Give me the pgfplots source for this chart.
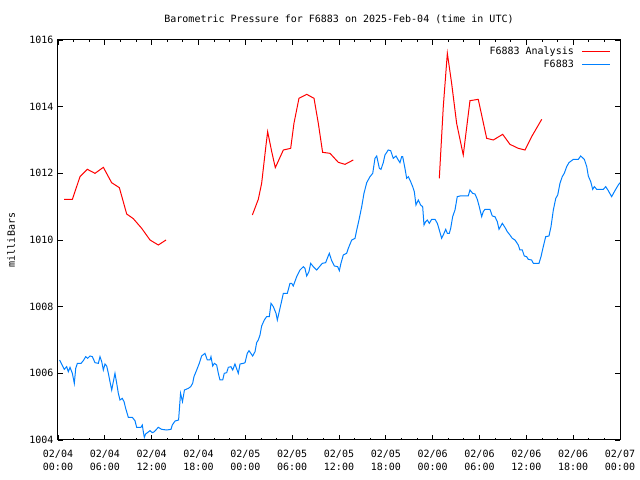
\documentclass[border=0pt]{standalone}
\usepackage{fontspec}
\setmainfont{DejaVu Sans Mono}
\usepackage{pgfplots}
\pgfplotsset{compat=1.18}
\definecolor{redline}{RGB}{255,0,0}
\definecolor{blueline}{RGB}{0,128,255}
\begin{document}
\begin{tikzpicture}
\fill[white] (-58bp,-40bp) rectangle (582bp,440bp);
\path[use as bounding box] (-58bp,-40bp) rectangle (582bp,440bp);
\begin{axis}[
  at={(0,0)}, anchor=south west,
  scale only axis, width=562bp, height=400bp,
  xmin=0, xmax=72, ymin=1004, ymax=1016,
  xtick={0,6,...,72},
  xticklabels={{02/04\\00:00},{02/04\\06:00},{02/04\\12:00},{02/04\\18:00},{02/05\\00:00},{02/05\\06:00},{02/05\\12:00},{02/05\\18:00},{02/06\\00:00},{02/06\\06:00},{02/06\\12:00},{02/06\\18:00},{02/07\\00:00}},
  minor x tick num=2,
  ytick={1004,1006,...,1016},
  yticklabel style={/pgf/number format/1000 sep={}, /pgf/number format/assume math mode=true, font=\fontsize{10bp}{12bp}\selectfont, xshift=-1bp},
  xticklabel style={align=center, font=\fontsize{10bp}{13bp}\selectfont, yshift=-7bp},
  tick align=inside,
  major tick length=5bp, minor tick length=2.5bp,
  every tick/.style={black, line width=0.8bp},
  axis line style={black, line width=1bp},
  unbounded coords=jump,
  legend plot pos=right,
  legend cell align=right,
  legend style={draw=none, fill=none, at={(1,1)}, anchor=north east, xshift=-6bp, yshift=-3bp, font=\fontsize{10bp}{12bp}\selectfont, row sep=0bp},
  legend image code/.code={\path (0bp,0bp); \draw[#1] (6bp,0bp) -- (34bp,0bp);},
]
\addplot[redline, line width=1bp] coordinates {
(0.77,1011.22)(1.84,1011.22)(2.82,1011.9)(3.76,1012.12)(4.74,1012.0)(5.81,1012.18)(6.87,1011.72)(7.86,1011.57)(8.8,1010.78)(9.65,1010.64)(10.72,1010.35)(11.79,1010.0)(12.85,1009.85)(13.84,1010.0)
(18,nan)
(24.9,1010.75)(25.66,1011.22)(26.09,1011.7)(26.65,1012.85)(26.86,1013.25)(27.38,1012.65)(27.84,1012.17)(28.87,1012.7)(29.81,1012.75)(30.23,1013.5)(30.87,1014.25)(31.86,1014.37)(32.8,1014.25)(33.35,1013.5)(33.9,1012.63)(34.85,1012.6)(35.91,1012.33)(36.77,1012.27)(37.83,1012.4)
(42,nan)
(48.85,1011.85)(49.36,1014.0)(49.88,1015.6)(50.43,1014.7)(51.07,1013.5)(51.92,1012.55)(52.78,1014.18)(53.84,1014.22)(54.92,1013.05)(55.77,1013.0)(56.97,1013.17)(57.9,1012.87)(58.97,1012.75)(59.83,1012.7)(60.68,1013.1)(61.97,1013.62)
};
\addlegendentry{F6883 Analysis}
\addplot[blueline, line width=1bp] coordinates {
(0.2,1006.4)(0.47,1006.28)(0.81,1006.12)(1.11,1006.2)(1.32,1006.05)(1.54,1006.18)(1.84,1006.0)(2.09,1005.7)(2.27,1006.15)(2.48,1006.3)(2.95,1006.3)(3.24,1006.38)(3.55,1006.5)(3.8,1006.45)(4.1,1006.52)(4.4,1006.5)(4.74,1006.32)(5.17,1006.3)(5.38,1006.5)(5.6,1006.35)(5.81,1006.1)(6.02,1006.28)(6.24,1006.22)(6.45,1006.0)(6.66,1005.75)(6.88,1005.5)(7.09,1005.75)(7.3,1006.0)(7.52,1005.7)(7.73,1005.4)(7.94,1005.2)(8.24,1005.25)(8.46,1005.15)(8.67,1004.95)(9.01,1004.68)(9.52,1004.68)(9.86,1004.58)(10.08,1004.38)(10.63,1004.38)(10.8,1004.45)(10.93,1004.25)(11.06,1004.08)(11.23,1004.18)(11.79,1004.28)(12.08,1004.22)(12.34,1004.25)(12.85,1004.38)(13.28,1004.32)(13.92,1004.3)(14.48,1004.32)(14.64,1004.45)(15.0,1004.57)(15.45,1004.6)(15.7,1005.4)(15.95,1005.15)(16.2,1005.5)(16.7,1005.55)(17.0,1005.6)(17.25,1005.7)(17.42,1005.9)(17.77,1006.1)(18.1,1006.3)(18.4,1006.52)(18.83,1006.6)(19.13,1006.4)(19.47,1006.4)(19.6,1006.5)(19.82,1006.22)(20.03,1006.3)(20.33,1006.25)(20.54,1006.0)(20.75,1005.8)(21.1,1005.8)(21.3,1006.0)(21.61,1006.02)(21.82,1006.18)(22.16,1006.2)(22.38,1006.1)(22.67,1006.28)(23.1,1006.0)(23.32,1006.28)(23.74,1006.3)(23.96,1006.32)(24.25,1006.6)(24.47,1006.68)(24.94,1006.52)(25.24,1006.65)(25.45,1006.92)(25.66,1007.0)(25.88,1007.15)(26.09,1007.42)(26.43,1007.6)(26.73,1007.7)(27.07,1007.7)(27.29,1008.1)(27.59,1008.0)(27.93,1007.8)(28.1,1007.6)(28.44,1007.95)(28.87,1008.4)(29.38,1008.4)(29.72,1008.7)(29.94,1008.7)(30.14,1008.62)(30.58,1008.9)(31.0,1009.1)(31.43,1009.2)(31.64,1009.15)(31.86,1008.92)(32.15,1009.05)(32.37,1009.3)(32.71,1009.2)(33.14,1009.1)(33.86,1009.3)(34.29,1009.32)(34.55,1009.48)(34.76,1009.6)(35.06,1009.38)(35.4,1009.22)(35.83,1009.2)(36.04,1009.08)(36.25,1009.3)(36.55,1009.55)(36.98,1009.6)(37.19,1009.75)(37.63,1010.0)(38.05,1010.05)(38.27,1010.3)(38.56,1010.6)(38.91,1011.0)(39.2,1011.4)(39.55,1011.72)(39.97,1011.9)(40.32,1012.0)(40.61,1012.45)(40.83,1012.52)(41.17,1012.15)(41.38,1012.12)(41.67,1012.32)(41.89,1012.55)(42.31,1012.7)(42.62,1012.68)(42.95,1012.45)(43.3,1012.52)(43.59,1012.4)(43.81,1012.32)(44.03,1012.5)(44.16,1012.5)(44.45,1012.15)(44.67,1011.85)(44.88,1011.9)(45.18,1011.75)(45.44,1011.6)(45.65,1011.45)(45.86,1011.05)(46.16,1011.2)(46.46,1011.05)(46.72,1011.0)(46.89,1010.45)(47.1,1010.55)(47.31,1010.6)(47.57,1010.5)(47.87,1010.62)(48.3,1010.62)(48.6,1010.5)(48.85,1010.3)(49.15,1010.05)(49.36,1010.15)(49.67,1010.32)(49.88,1010.2)(50.13,1010.2)(50.31,1010.35)(50.56,1010.7)(50.86,1010.9)(51.15,1011.3)(51.5,1011.32)(52.14,1011.32)(52.56,1011.32)(52.78,1011.5)(53.12,1011.4)(53.42,1011.38)(53.72,1011.22)(53.97,1011.0)(54.28,1010.7)(54.48,1010.85)(54.7,1010.92)(55.34,1010.92)(55.64,1010.72)(55.98,1010.7)(56.28,1010.55)(56.5,1010.32)(56.92,1010.5)(57.26,1010.38)(57.56,1010.25)(57.9,1010.15)(58.2,1010.05)(58.55,1010.0)(58.97,1009.85)(59.18,1009.7)(59.48,1009.7)(59.74,1009.52)(60.04,1009.5)(60.25,1009.42)(60.68,1009.4)(60.9,1009.3)(61.62,1009.3)(61.88,1009.5)(62.17,1009.8)(62.48,1010.1)(62.9,1010.12)(63.16,1010.4)(63.46,1010.9)(63.77,1011.25)(64.02,1011.35)(64.31,1011.7)(64.6,1011.9)(64.86,1012.0)(65.17,1012.2)(65.46,1012.32)(66.02,1012.42)(66.66,1012.42)(66.96,1012.52)(67.43,1012.42)(67.74,1012.2)(67.94,1011.92)(68.25,1011.75)(68.5,1011.52)(68.71,1011.6)(69.02,1011.52)(69.86,1011.52)(70.17,1011.6)(70.5,1011.48)(70.93,1011.3)(71.35,1011.48)(71.78,1011.65)(72.0,1011.72)
};
\addlegendentry{F6883}
\end{axis}
\node[font=\fontsize{10bp}{12bp}\selectfont] at (281bp,421bp) {Barometric Pressure for F6883 on 2025-Feb-04 (time in UTC)};
\node[rotate=90, font=\fontsize{10bp}{12bp}\selectfont] at (-47bp,200bp) {milliBars};
\end{tikzpicture}
\end{document}
